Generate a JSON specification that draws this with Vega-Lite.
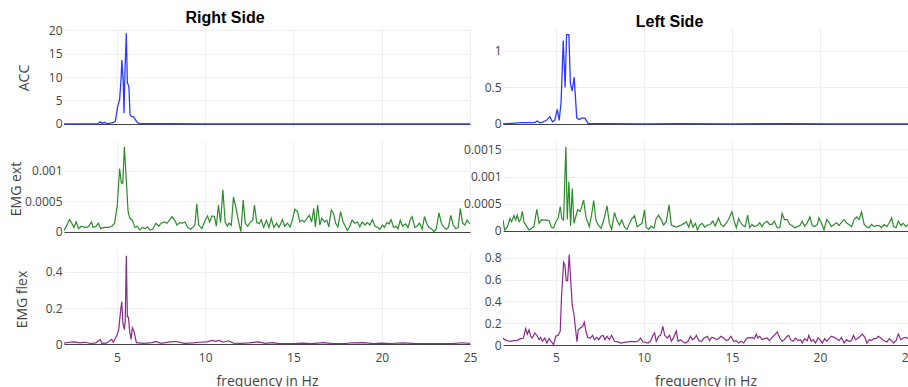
{
  "$schema": "https://vega.github.io/schema/vega-lite/v6.json",
  "padding": {"left": 8, "top": 10, "right": 0, "bottom": 0},
  "background": "white",
  "config": {
    "view": {"stroke": null},
    "axis": {
      "labelFont": "Open Sans", "labelFontSize": 12, "labelColor": "#444",
      "ticks": false, "tickSize": 0, "domain": false, "labelFlush": false,
      "gridColor": "#eeeeee", "gridWidth": 1,
      "titleFont": "Open Sans", "titleFontSize": 14, "titleColor": "#444", "titleFontWeight": "normal"
    },
    "title": {"font": "Liberation Sans", "fontSize": 16, "fontWeight": "bold", "color": "#000"}
  },
  "datasets": {
    "accR": [
      {"f": 2.0, "v": 0}, {"f": 3.0, "v": 0.02}, {"f": 3.9, "v": 0.02}, {"f": 4.05, "v": 0.5}, {"f": 4.15, "v": 0.07},
      {"f": 4.28, "v": 0.35}, {"f": 4.43, "v": 0.07}, {"f": 4.62, "v": 0.2}, {"f": 4.81, "v": 0.35}, {"f": 4.91, "v": 0.6},
      {"f": 5.04, "v": 3.7}, {"f": 5.15, "v": 5.2}, {"f": 5.23, "v": 9.4}, {"f": 5.28, "v": 13.6}, {"f": 5.36, "v": 8.7},
      {"f": 5.4, "v": 2.3}, {"f": 5.46, "v": 12}, {"f": 5.53, "v": 19.3}, {"f": 5.59, "v": 8.7}, {"f": 5.65, "v": 8.3},
      {"f": 5.68, "v": 7.6}, {"f": 5.74, "v": 2.0}, {"f": 5.82, "v": 1.6}, {"f": 5.95, "v": 1.5}, {"f": 6.02, "v": 1.1},
      {"f": 6.14, "v": 0.35}, {"f": 6.29, "v": 0.07}, {"f": 8, "v": 0.05}, {"f": 10, "v": 0.03}, {"f": 13, "v": 0.04},
      {"f": 16, "v": 0.03}, {"f": 19, "v": 0.03}, {"f": 22, "v": 0.04}, {"f": 25, "v": 0.03}
    ],
    "accL": [
      {"f": 2.0, "v": 0}, {"f": 3.05, "v": 0.02}, {"f": 3.52, "v": 0.02}, {"f": 3.81, "v": 0.02}, {"f": 3.94, "v": 0.04},
      {"f": 4.09, "v": 0.015}, {"f": 4.28, "v": 0.03}, {"f": 4.47, "v": 0.05}, {"f": 4.66, "v": 0.1}, {"f": 4.81, "v": 0.03},
      {"f": 4.94, "v": 0.05}, {"f": 5.08, "v": 0.2}, {"f": 5.19, "v": 0.05}, {"f": 5.3, "v": 0.3}, {"f": 5.42, "v": 1.14},
      {"f": 5.53, "v": 0.5}, {"f": 5.61, "v": 1.22}, {"f": 5.74, "v": 1.22}, {"f": 5.83, "v": 0.55}, {"f": 5.93, "v": 0.45},
      {"f": 6.04, "v": 0.64}, {"f": 6.19, "v": 0.08}, {"f": 6.33, "v": 0.06}, {"f": 6.46, "v": 0.08}, {"f": 6.65, "v": 0.08},
      {"f": 6.84, "v": 0.005}, {"f": 8, "v": 0.004}, {"f": 10, "v": 0.003}, {"f": 12, "v": 0.004}, {"f": 15, "v": 0.003},
      {"f": 18, "v": 0.004}, {"f": 21, "v": 0.003}, {"f": 25, "v": 0.003}
    ],
    "extR": [
      {"f": 2.0, "v": 0.00002}, {"f": 2.12, "v": 0.00008}, {"f": 2.31, "v": 0.0002}, {"f": 2.44, "v": 0.00014}, {"f": 2.56, "v": 0.00007},
      {"f": 2.69, "v": 0.00016}, {"f": 2.83, "v": 0.00005}, {"f": 2.98, "v": 0.00009}, {"f": 3.17, "v": 0.00007}, {"f": 3.37, "v": 0.00008},
      {"f": 3.56, "v": 0.00016}, {"f": 3.65, "v": 0.00007}, {"f": 3.81, "v": 0.00009}, {"f": 3.94, "v": 0.00014}, {"f": 4.08, "v": 0.00005},
      {"f": 4.27, "v": 0.00007}, {"f": 4.52, "v": 0.00007}, {"f": 4.71, "v": 0.00009}, {"f": 4.87, "v": 0.00014}, {"f": 5.02, "v": 0.00044},
      {"f": 5.15, "v": 0.00104}, {"f": 5.25, "v": 0.0008}, {"f": 5.33, "v": 0.0008}, {"f": 5.42, "v": 0.0014}, {"f": 5.54, "v": 0.0008},
      {"f": 5.63, "v": 0.00033}, {"f": 5.73, "v": 0.00022}, {"f": 5.87, "v": 0.00019}, {"f": 6.02, "v": 0.00007}, {"f": 6.15, "v": 0.00009},
      {"f": 6.29, "v": 0.00003}, {"f": 6.44, "v": 0.00007}, {"f": 6.6, "v": 0.00005}, {"f": 6.73, "v": 0.00008}, {"f": 6.87, "v": 0.00003},
      {"f": 7.02, "v": 0.00004}, {"f": 7.21, "v": 0.00014}, {"f": 7.37, "v": 0.00009}, {"f": 7.5, "v": 0.00014}, {"f": 7.69, "v": 0.00016},
      {"f": 7.83, "v": 0.00014}, {"f": 7.98, "v": 0.00019}, {"f": 8.12, "v": 0.00025}, {"f": 8.27, "v": 0.00019}, {"f": 8.4, "v": 0.00011},
      {"f": 8.56, "v": 0.00015}, {"f": 8.71, "v": 0.00014}, {"f": 8.85, "v": 0.00016}, {"f": 9.0, "v": 0.00007}, {"f": 9.17, "v": 0.00004},
      {"f": 9.33, "v": 0.00008}, {"f": 9.42, "v": 0.00011}, {"f": 9.52, "v": 0.00046}, {"f": 9.63, "v": 0.00011}, {"f": 9.81, "v": 0.00005},
      {"f": 10.0, "v": 0.00019}, {"f": 10.13, "v": 0.00026}, {"f": 10.25, "v": 0.00016}, {"f": 10.38, "v": 0.00026}, {"f": 10.52, "v": 0.00025},
      {"f": 10.63, "v": 0.00009}, {"f": 10.75, "v": 0.00044}, {"f": 10.87, "v": 0.00015}, {"f": 11.0, "v": 0.00069}, {"f": 11.13, "v": 0.00016},
      {"f": 11.25, "v": 0.00009}, {"f": 11.35, "v": 0.00014}, {"f": 11.48, "v": 0.00011}, {"f": 11.6, "v": 0.00057}, {"f": 11.73, "v": 0.00041},
      {"f": 11.87, "v": 0.00019}, {"f": 12.02, "v": 0.0}, {"f": 12.15, "v": 0.00052}, {"f": 12.27, "v": 0.00014}, {"f": 12.4, "v": 0.00009},
      {"f": 12.54, "v": 0.00015}, {"f": 12.69, "v": 0.00019}, {"f": 12.79, "v": 0.00044}, {"f": 12.92, "v": 0.00015}, {"f": 13.06, "v": 0.00013},
      {"f": 13.17, "v": 0.0002}, {"f": 13.31, "v": 0.00007}, {"f": 13.47, "v": 0.00019}, {"f": 13.61, "v": 0.00007}, {"f": 13.74, "v": 0.00022},
      {"f": 13.89, "v": 0.00007}, {"f": 14.05, "v": 0.00014}, {"f": 14.18, "v": 0.00007}, {"f": 14.37, "v": 0.0002}, {"f": 14.5, "v": 0.00009},
      {"f": 14.66, "v": 0.00014}, {"f": 14.81, "v": 0.00008}, {"f": 14.94, "v": 0.0002}, {"f": 15.08, "v": 0.00037}, {"f": 15.23, "v": 0.00033},
      {"f": 15.36, "v": 0.00016}, {"f": 15.48, "v": 0.00019}, {"f": 15.61, "v": 0.00016}, {"f": 15.76, "v": 0.00022}, {"f": 15.9, "v": 0.00027},
      {"f": 16.03, "v": 0.00016}, {"f": 16.15, "v": 0.00038}, {"f": 16.24, "v": 0.00008}, {"f": 16.37, "v": 0.00044}, {"f": 16.49, "v": 0.00011},
      {"f": 16.6, "v": 0.00022}, {"f": 16.76, "v": 0.00016}, {"f": 16.89, "v": 0.00019}, {"f": 17.0, "v": 0.00008}, {"f": 17.14, "v": 0.00036},
      {"f": 17.27, "v": 0.0003}, {"f": 17.39, "v": 0.00014}, {"f": 17.52, "v": 0.00008}, {"f": 17.67, "v": 0.00033}, {"f": 17.81, "v": 0.00016},
      {"f": 17.9, "v": 0.00011}, {"f": 18.05, "v": 0.00002}, {"f": 18.19, "v": 0.00009}, {"f": 18.32, "v": 0.00019}, {"f": 18.47, "v": 0.00014},
      {"f": 18.63, "v": 0.00016}, {"f": 18.76, "v": 0.00008}, {"f": 18.89, "v": 0.00016}, {"f": 19.05, "v": 0.00011}, {"f": 19.18, "v": 0.00015},
      {"f": 19.33, "v": 0.00011}, {"f": 19.47, "v": 0.0002}, {"f": 19.62, "v": 0.00009}, {"f": 19.77, "v": 0.00007}, {"f": 19.9, "v": 0.00004},
      {"f": 20.04, "v": 0.00011}, {"f": 20.15, "v": 0.00007}, {"f": 20.29, "v": 0.00015}, {"f": 20.42, "v": 0.00013}, {"f": 20.53, "v": 0.0002},
      {"f": 20.67, "v": 0.00007}, {"f": 20.8, "v": 0.00009}, {"f": 20.92, "v": 0.00005}, {"f": 21.05, "v": 0.00019}, {"f": 21.18, "v": 0.00009},
      {"f": 21.34, "v": 0.00013}, {"f": 21.49, "v": 0.00007}, {"f": 21.62, "v": 0.0002}, {"f": 21.72, "v": 0.00025}, {"f": 21.87, "v": 0.00007},
      {"f": 22.0, "v": 0.00009}, {"f": 22.14, "v": 0.00014}, {"f": 22.29, "v": 0.00004}, {"f": 22.42, "v": 0.00025}, {"f": 22.54, "v": 0.00014},
      {"f": 22.67, "v": 0.00007}, {"f": 22.82, "v": 0.00005}, {"f": 22.96, "v": 0.0}, {"f": 23.09, "v": 0.00005}, {"f": 23.24, "v": 0.00031},
      {"f": 23.38, "v": 0.00014}, {"f": 23.53, "v": 0.00007}, {"f": 23.66, "v": 0.00004}, {"f": 23.78, "v": 0.00007}, {"f": 23.91, "v": 0.00027},
      {"f": 24.05, "v": 0.00011}, {"f": 24.2, "v": 0.00005}, {"f": 24.33, "v": 0.00007}, {"f": 24.45, "v": 0.00038}, {"f": 24.58, "v": 0.00014},
      {"f": 24.71, "v": 0.00011}, {"f": 24.83, "v": 0.00019}, {"f": 24.96, "v": 0.00014}, {"f": 25.0, "v": 0.00013}
    ],
    "extL": [
      {"f": 2.0, "v": 0.0002}, {"f": 2.09, "v": 0.00002}, {"f": 2.24, "v": 0.00007}, {"f": 2.4, "v": 0.00023}, {"f": 2.49, "v": 0.00017},
      {"f": 2.62, "v": 0.00028}, {"f": 2.72, "v": 0.0002}, {"f": 2.81, "v": 0.00029}, {"f": 2.91, "v": 0.00017}, {"f": 3.0, "v": 0.00021},
      {"f": 3.1, "v": 0.00036}, {"f": 3.19, "v": 0.00017}, {"f": 3.35, "v": 0.00008}, {"f": 3.48, "v": 0.00002}, {"f": 3.63, "v": 0.00005},
      {"f": 3.76, "v": 0.00009}, {"f": 3.92, "v": 0.0004}, {"f": 4.05, "v": 0.00014}, {"f": 4.18, "v": 0.00021}, {"f": 4.33, "v": 0.0002},
      {"f": 4.49, "v": 0.0002}, {"f": 4.62, "v": 0.00019}, {"f": 4.75, "v": 0.00007}, {"f": 4.87, "v": 0.00005}, {"f": 5.0, "v": 0.00017},
      {"f": 5.13, "v": 0.00023}, {"f": 5.25, "v": 0.00045}, {"f": 5.34, "v": 0.00023}, {"f": 5.44, "v": 0.0002}, {"f": 5.57, "v": 0.00155},
      {"f": 5.65, "v": 0.00021}, {"f": 5.74, "v": 0.00091}, {"f": 5.84, "v": 0.00009}, {"f": 5.93, "v": 0.00078}, {"f": 6.03, "v": 0.00014},
      {"f": 6.24, "v": 0.00039}, {"f": 6.39, "v": 0.00036}, {"f": 6.58, "v": 0.00057}, {"f": 6.71, "v": 0.00026}, {"f": 6.9, "v": 0.00008},
      {"f": 7.03, "v": 0.00029}, {"f": 7.15, "v": 0.00056}, {"f": 7.28, "v": 0.0002}, {"f": 7.41, "v": 0.00011}, {"f": 7.57, "v": 0.00005},
      {"f": 7.72, "v": 0.0002}, {"f": 7.91, "v": 0.00046}, {"f": 8.04, "v": 0.00014}, {"f": 8.17, "v": 0.00003}, {"f": 8.33, "v": 0.00034},
      {"f": 8.46, "v": 0.0002}, {"f": 8.61, "v": 0.00011}, {"f": 8.75, "v": 0.0002}, {"f": 8.9, "v": 0.00007}, {"f": 9.05, "v": 0.00003},
      {"f": 9.18, "v": 0.00014}, {"f": 9.33, "v": 0.00023}, {"f": 9.47, "v": 0.00028}, {"f": 9.62, "v": 0.00008}, {"f": 9.75, "v": 0.00011},
      {"f": 9.89, "v": 0.00014}, {"f": 10.04, "v": 0.00039}, {"f": 10.13, "v": 0.00007}, {"f": 10.27, "v": 0.00003}, {"f": 10.42, "v": 0.00009},
      {"f": 10.57, "v": 0.00005}, {"f": 10.7, "v": 0.00023}, {"f": 10.84, "v": 0.00029}, {"f": 10.99, "v": 0.0002}, {"f": 11.12, "v": 0.00011},
      {"f": 11.27, "v": 0.00017}, {"f": 11.43, "v": 0.00048}, {"f": 11.56, "v": 0.00011}, {"f": 11.71, "v": 0.00009}, {"f": 11.84, "v": 0.00007},
      {"f": 11.98, "v": 0.00009}, {"f": 12.13, "v": 0.00011}, {"f": 12.28, "v": 0.00014}, {"f": 12.41, "v": 0.00017}, {"f": 12.55, "v": 0.00007},
      {"f": 12.66, "v": 0.0002}, {"f": 12.79, "v": 0.00007}, {"f": 12.93, "v": 0.00014}, {"f": 13.04, "v": 0.00002}, {"f": 13.18, "v": 0.00011},
      {"f": 13.31, "v": 0.00014}, {"f": 13.46, "v": 0.00007}, {"f": 13.61, "v": 0.00011}, {"f": 13.76, "v": 0.00012}, {"f": 13.92, "v": 0.00018},
      {"f": 14.05, "v": 0.00009}, {"f": 14.24, "v": 0.00024}, {"f": 14.37, "v": 0.00012}, {"f": 14.52, "v": 0.00008}, {"f": 14.68, "v": 0.00015},
      {"f": 14.81, "v": 0.00021}, {"f": 15.0, "v": 0.00035}, {"f": 15.13, "v": 0.00018}, {"f": 15.25, "v": 0.00006}, {"f": 15.38, "v": 0.00023},
      {"f": 15.48, "v": 0.00016}, {"f": 15.63, "v": 0.0001}, {"f": 15.76, "v": 0.00008}, {"f": 15.89, "v": 0.00029}, {"f": 16.01, "v": 0.00006},
      {"f": 16.14, "v": 0.00012}, {"f": 16.27, "v": 0.00008}, {"f": 16.43, "v": 0.0001}, {"f": 16.58, "v": 0.00015}, {"f": 16.71, "v": 0.00008},
      {"f": 16.84, "v": 0.00015}, {"f": 17.0, "v": 0.00018}, {"f": 17.13, "v": 0.00012}, {"f": 17.28, "v": 0.00012}, {"f": 17.41, "v": 0.00018},
      {"f": 17.57, "v": 0.00006}, {"f": 17.72, "v": 0.00006}, {"f": 17.85, "v": 0.00032}, {"f": 17.98, "v": 0.00021}, {"f": 18.14, "v": 0.00021},
      {"f": 18.29, "v": 0.00012}, {"f": 18.42, "v": 0.0001}, {"f": 18.56, "v": 0.00006}, {"f": 18.71, "v": 0.00008}, {"f": 18.86, "v": 0.0001},
      {"f": 18.99, "v": 0.00018}, {"f": 19.13, "v": 0.00009}, {"f": 19.28, "v": 0.00015}, {"f": 19.43, "v": 0.00026}, {"f": 19.56, "v": 0.0001},
      {"f": 19.7, "v": 0.00008}, {"f": 19.85, "v": 0.00012}, {"f": 19.94, "v": 0.00024}, {"f": 20.08, "v": 0.00015}, {"f": 20.23, "v": 0.00002},
      {"f": 20.38, "v": 0.00021}, {"f": 20.51, "v": 0.00016}, {"f": 20.65, "v": 0.00008}, {"f": 20.8, "v": 0.00012}, {"f": 20.95, "v": 0.00015},
      {"f": 21.08, "v": 0.0001}, {"f": 21.22, "v": 0.00016}, {"f": 21.37, "v": 0.00021}, {"f": 21.5, "v": 0.00015}, {"f": 21.65, "v": 0.00012},
      {"f": 21.79, "v": 0.00008}, {"f": 21.94, "v": 0.00021}, {"f": 22.09, "v": 0.00026}, {"f": 22.22, "v": 0.00021}, {"f": 22.36, "v": 0.00035},
      {"f": 22.51, "v": 0.00012}, {"f": 22.64, "v": 0.00008}, {"f": 22.79, "v": 0.00006}, {"f": 22.93, "v": 0.00012}, {"f": 23.08, "v": 0.00008},
      {"f": 23.21, "v": 0.0001}, {"f": 23.37, "v": 0.0001}, {"f": 23.5, "v": 0.00006}, {"f": 23.65, "v": 0.00012}, {"f": 23.8, "v": 0.00008},
      {"f": 23.94, "v": 0.00015}, {"f": 24.07, "v": 0.00024}, {"f": 24.18, "v": 0.00008}, {"f": 24.32, "v": 0.00006}, {"f": 24.45, "v": 0.00018},
      {"f": 24.6, "v": 0.0001}, {"f": 24.73, "v": 0.00014}, {"f": 24.89, "v": 0.00008}, {"f": 25.0, "v": 0.00012}
    ],
    "flexR": [
      {"f": 2.0, "v": 0.005}, {"f": 2.3, "v": 0.01}, {"f": 2.6, "v": 0.012}, {"f": 2.9, "v": 0.006}, {"f": 3.2, "v": 0.01},
      {"f": 3.5, "v": 0.003}, {"f": 3.8, "v": 0.006}, {"f": 4.05, "v": 0.025}, {"f": 4.15, "v": 0.004}, {"f": 4.4, "v": 0.005},
      {"f": 4.7, "v": 0.026}, {"f": 4.8, "v": 0.01}, {"f": 5.0, "v": 0.05}, {"f": 5.1, "v": 0.08}, {"f": 5.19, "v": 0.17},
      {"f": 5.27, "v": 0.235}, {"f": 5.34, "v": 0.115}, {"f": 5.42, "v": 0.08}, {"f": 5.47, "v": 0.13}, {"f": 5.53, "v": 0.49},
      {"f": 5.59, "v": 0.15}, {"f": 5.65, "v": 0.15}, {"f": 5.72, "v": 0.07}, {"f": 5.8, "v": 0.026}, {"f": 5.87, "v": 0.09},
      {"f": 5.95, "v": 0.074}, {"f": 6.0, "v": 0.055}, {"f": 6.1, "v": 0.008}, {"f": 6.5, "v": 0.004}, {"f": 7.0, "v": 0.008},
      {"f": 7.2, "v": 0.015}, {"f": 7.5, "v": 0.004}, {"f": 8.0, "v": 0.012}, {"f": 8.4, "v": 0.014}, {"f": 8.8, "v": 0.004},
      {"f": 9.3, "v": 0.006}, {"f": 9.7, "v": 0.01}, {"f": 10.1, "v": 0.012}, {"f": 10.4, "v": 0.02}, {"f": 10.6, "v": 0.015},
      {"f": 10.8, "v": 0.02}, {"f": 11.0, "v": 0.01}, {"f": 11.3, "v": 0.018}, {"f": 11.6, "v": 0.005}, {"f": 12.0, "v": 0.004},
      {"f": 12.5, "v": 0.006}, {"f": 13.0, "v": 0.012}, {"f": 13.4, "v": 0.004}, {"f": 13.8, "v": 0.008}, {"f": 14.2, "v": 0.002},
      {"f": 15.0, "v": 0.003}, {"f": 15.5, "v": 0.005}, {"f": 16.0, "v": 0.002}, {"f": 16.7, "v": 0.008}, {"f": 17.2, "v": 0.002},
      {"f": 18.0, "v": 0.004}, {"f": 18.3, "v": 0.007}, {"f": 19.0, "v": 0.008}, {"f": 19.5, "v": 0.002}, {"f": 20.0, "v": 0.005},
      {"f": 20.5, "v": 0.003}, {"f": 21.2, "v": 0.006}, {"f": 22.0, "v": 0.002}, {"f": 23.0, "v": 0.003}, {"f": 24.0, "v": 0.002},
      {"f": 24.5, "v": 0.007}, {"f": 25.0, "v": 0.004}
    ],
    "flexL": [
      {"f": 2.0, "v": 0.064}, {"f": 2.09, "v": 0.049}, {"f": 2.24, "v": 0.04}, {"f": 2.43, "v": 0.034}, {"f": 2.62, "v": 0.04},
      {"f": 2.81, "v": 0.043}, {"f": 3.0, "v": 0.058}, {"f": 3.16, "v": 0.064}, {"f": 3.29, "v": 0.15}, {"f": 3.38, "v": 0.1},
      {"f": 3.48, "v": 0.14}, {"f": 3.57, "v": 0.08}, {"f": 3.67, "v": 0.064}, {"f": 3.8, "v": 0.11}, {"f": 3.92, "v": 0.089},
      {"f": 4.05, "v": 0.049}, {"f": 4.14, "v": 0.07}, {"f": 4.24, "v": 0.034}, {"f": 4.37, "v": 0.064}, {"f": 4.49, "v": 0.018},
      {"f": 4.62, "v": 0.058}, {"f": 4.75, "v": 0.028}, {"f": 4.87, "v": 0.003}, {"f": 5.0, "v": 0.08}, {"f": 5.13, "v": 0.089},
      {"f": 5.25, "v": 0.126}, {"f": 5.32, "v": 0.43}, {"f": 5.44, "v": 0.76}, {"f": 5.51, "v": 0.74}, {"f": 5.59, "v": 0.59},
      {"f": 5.67, "v": 0.59}, {"f": 5.76, "v": 0.83}, {"f": 5.86, "v": 0.555}, {"f": 5.93, "v": 0.37}, {"f": 6.03, "v": 0.28},
      {"f": 6.2, "v": 0.03}, {"f": 6.27, "v": 0.14}, {"f": 6.39, "v": 0.156}, {"f": 6.52, "v": 0.17}, {"f": 6.62, "v": 0.21},
      {"f": 6.71, "v": 0.126}, {"f": 6.81, "v": 0.07}, {"f": 6.96, "v": 0.064}, {"f": 7.09, "v": 0.089}, {"f": 7.19, "v": 0.049},
      {"f": 7.32, "v": 0.07}, {"f": 7.43, "v": 0.049}, {"f": 7.57, "v": 0.08}, {"f": 7.68, "v": 0.089}, {"f": 7.79, "v": 0.049},
      {"f": 7.91, "v": 0.08}, {"f": 8.04, "v": 0.049}, {"f": 8.17, "v": 0.089}, {"f": 8.33, "v": 0.034}, {"f": 8.52, "v": 0.028},
      {"f": 8.71, "v": 0.018}, {"f": 8.9, "v": 0.025}, {"f": 9.09, "v": 0.028}, {"f": 9.28, "v": 0.034}, {"f": 9.47, "v": 0.028},
      {"f": 9.66, "v": 0.034}, {"f": 9.81, "v": 0.064}, {"f": 9.94, "v": 0.028}, {"f": 10.08, "v": 0.025}, {"f": 10.23, "v": 0.018},
      {"f": 10.38, "v": 0.034}, {"f": 10.51, "v": 0.089}, {"f": 10.61, "v": 0.11}, {"f": 10.7, "v": 0.034}, {"f": 10.84, "v": 0.08},
      {"f": 10.95, "v": 0.089}, {"f": 11.08, "v": 0.17}, {"f": 11.18, "v": 0.089}, {"f": 11.33, "v": 0.064}, {"f": 11.46, "v": 0.089},
      {"f": 11.56, "v": 0.034}, {"f": 11.69, "v": 0.07}, {"f": 11.84, "v": 0.13}, {"f": 11.94, "v": 0.034}, {"f": 12.09, "v": 0.049},
      {"f": 12.22, "v": 0.028}, {"f": 12.36, "v": 0.018}, {"f": 12.51, "v": 0.034}, {"f": 12.64, "v": 0.08}, {"f": 12.76, "v": 0.049},
      {"f": 12.89, "v": 0.064}, {"f": 12.98, "v": 0.089}, {"f": 13.12, "v": 0.04}, {"f": 13.27, "v": 0.034}, {"f": 13.42, "v": 0.064},
      {"f": 13.61, "v": 0.08}, {"f": 13.73, "v": 0.04}, {"f": 13.86, "v": 0.07}, {"f": 13.99, "v": 0.064}, {"f": 14.11, "v": 0.049},
      {"f": 14.24, "v": 0.058}, {"f": 14.37, "v": 0.08}, {"f": 14.52, "v": 0.064}, {"f": 14.68, "v": 0.04}, {"f": 14.81, "v": 0.049},
      {"f": 14.94, "v": 0.08}, {"f": 15.1, "v": 0.034}, {"f": 15.25, "v": 0.04}, {"f": 15.38, "v": 0.018}, {"f": 15.51, "v": 0.034},
      {"f": 15.67, "v": 0.018}, {"f": 15.82, "v": 0.058}, {"f": 15.95, "v": 0.07}, {"f": 16.05, "v": 0.064}, {"f": 16.14, "v": 0.07},
      {"f": 16.27, "v": 0.058}, {"f": 16.39, "v": 0.1}, {"f": 16.46, "v": 0.064}, {"f": 16.58, "v": 0.08}, {"f": 16.71, "v": 0.049},
      {"f": 16.84, "v": 0.058}, {"f": 17.0, "v": 0.064}, {"f": 17.13, "v": 0.04}, {"f": 17.28, "v": 0.07}, {"f": 17.41, "v": 0.089},
      {"f": 17.57, "v": 0.12}, {"f": 17.72, "v": 0.064}, {"f": 17.85, "v": 0.034}, {"f": 17.98, "v": 0.049}, {"f": 18.14, "v": 0.08},
      {"f": 18.23, "v": 0.089}, {"f": 18.33, "v": 0.049}, {"f": 18.48, "v": 0.034}, {"f": 18.61, "v": 0.064}, {"f": 18.75, "v": 0.04},
      {"f": 18.9, "v": 0.049}, {"f": 18.99, "v": 0.018}, {"f": 19.13, "v": 0.058}, {"f": 19.28, "v": 0.04}, {"f": 19.37, "v": 0.089},
      {"f": 19.51, "v": 0.034}, {"f": 19.62, "v": 0.049}, {"f": 19.75, "v": 0.018}, {"f": 19.89, "v": 0.064}, {"f": 20.0, "v": 0.049},
      {"f": 20.13, "v": 0.018}, {"f": 20.27, "v": 0.058}, {"f": 20.38, "v": 0.034}, {"f": 20.51, "v": 0.058}, {"f": 20.65, "v": 0.08},
      {"f": 20.8, "v": 0.07}, {"f": 20.95, "v": 0.058}, {"f": 21.08, "v": 0.04}, {"f": 21.22, "v": 0.07}, {"f": 21.37, "v": 0.018},
      {"f": 21.5, "v": 0.049}, {"f": 21.65, "v": 0.034}, {"f": 21.79, "v": 0.04}, {"f": 21.9, "v": 0.089}, {"f": 22.03, "v": 0.049},
      {"f": 22.17, "v": 0.064}, {"f": 22.28, "v": 0.08}, {"f": 22.41, "v": 0.1}, {"f": 22.55, "v": 0.07}, {"f": 22.66, "v": 0.018},
      {"f": 22.79, "v": 0.049}, {"f": 22.93, "v": 0.04}, {"f": 23.04, "v": 0.058}, {"f": 23.18, "v": 0.058}, {"f": 23.31, "v": 0.08},
      {"f": 23.42, "v": 0.07}, {"f": 23.56, "v": 0.049}, {"f": 23.69, "v": 0.034}, {"f": 23.8, "v": 0.028}, {"f": 23.94, "v": 0.058},
      {"f": 24.07, "v": 0.04}, {"f": 24.18, "v": 0.018}, {"f": 24.32, "v": 0.04}, {"f": 24.45, "v": 0.1}, {"f": 24.6, "v": 0.049},
      {"f": 24.73, "v": 0.064}, {"f": 24.89, "v": 0.07}, {"f": 25.0, "v": 0.058}
    ]
  },
  "columns": 2,
  "align": "each",
  "spacing": {"row": 14, "column": 33},
  "bounds": "flush",
  "concat": [
    {
      "width": 406, "height": 99,
      "title": {"text": "Right Side", "anchor": "middle", "frame": "group", "dx": -42, "offset": -15, "baseline": "alphabetic"},
      "data": {"name": "accR"},
      "mark": {"type": "line", "color": "#2b3cff", "strokeWidth": 1.3, "clip": true},
      "encoding": {
        "x": {"field": "f", "type": "quantitative", "scale": {"domain": [2, 25], "nice": false, "zero": false},
              "axis": {"values": [5, 10, 15, 20, 25], "labels": false, "title": null}},
        "y": {"field": "v", "type": "quantitative", "scale": {"domain": [-0.64, 20.43], "nice": false, "zero": false},
              "axis": {"values": [0, 5, 10, 15, 20], "format": "~g", "labelPadding": 2, "title": "ACC", "titleX": -36, "titleBaseline": "alphabetic",
                       "gridColor": {"condition": {"test": "datum.value === 0", "value": "#444"}, "value": "#eeeeee"}}}
      }
    },
    {
      "width": 405, "height": 99,
      "title": {"text": "Left Side", "anchor": "middle", "frame": "group", "dx": -36, "offset": -15, "baseline": "alphabetic"},
      "data": {"name": "accL"},
      "mark": {"type": "line", "color": "#2b3cff", "strokeWidth": 1.3, "clip": true},
      "encoding": {
        "x": {"field": "f", "type": "quantitative", "scale": {"domain": [2, 25], "nice": false, "zero": false},
              "axis": {"values": [5, 10, 15, 20, 25], "labels": false, "title": null}},
        "y": {"field": "v", "type": "quantitative", "scale": {"domain": [-0.041, 1.31], "nice": false, "zero": false},
              "axis": {"values": [0, 0.5, 1], "format": "~g", "labelPadding": 2, "title": null,
                       "gridColor": {"condition": {"test": "datum.value === 0", "value": "#444"}, "value": "#eeeeee"}}}
      }
    },
    {
      "width": 406, "height": 95,
      "data": {"name": "extR"},
      "mark": {"type": "line", "color": "#2a8c2a", "strokeWidth": 1.2, "clip": true},
      "encoding": {
        "x": {"field": "f", "type": "quantitative", "scale": {"domain": [2, 25], "nice": false, "zero": false},
              "axis": {"values": [5, 10, 15, 20, 25], "labels": false, "title": null}},
        "y": {"field": "v", "type": "quantitative", "scale": {"domain": [-0.0000708, 0.001494], "nice": false, "zero": false},
              "axis": {"values": [0, 0.0005, 0.001], "format": "~g", "labelPadding": 2, "title": "EMG ext", "titleX": -44, "titleBaseline": "alphabetic",
                       "gridColor": {"condition": {"test": "datum.value === 0", "value": "#444"}, "value": "#eeeeee"}}}
      }
    },
    {
      "width": 405, "height": 95,
      "data": {"name": "extL"},
      "mark": {"type": "line", "color": "#2a8c2a", "strokeWidth": 1.2, "clip": true},
      "encoding": {
        "x": {"field": "f", "type": "quantitative", "scale": {"domain": [2, 25], "nice": false, "zero": false},
              "axis": {"values": [5, 10, 15, 20, 25], "labels": false, "title": null}},
        "y": {"field": "v", "type": "quantitative", "scale": {"domain": [-0.000092, 0.001654], "nice": false, "zero": false},
              "axis": {"values": [0, 0.0005, 0.001, 0.0015], "format": "~g", "labelPadding": 2, "title": null,
                       "gridColor": {"condition": {"test": "datum.value === 0", "value": "#444"}, "value": "#eeeeee"}}}
      }
    },
    {
      "width": 406, "height": 98,
      "data": {"name": "flexR"},
      "mark": {"type": "line", "color": "#8c2a8c", "strokeWidth": 1.2, "clip": true},
      "encoding": {
        "x": {"field": "f", "type": "quantitative", "scale": {"domain": [2, 25], "nice": false, "zero": false},
              "axis": {"values": [5, 10, 15, 20, 25], "format": "d", "labelPadding": 4, "title": "frequency in Hz", "titlePadding": 11}},
        "y": {"field": "v", "type": "quantitative", "scale": {"domain": [-0.022, 0.522], "nice": false, "zero": false},
              "axis": {"values": [0, 0.2, 0.4], "format": "~g", "labelPadding": 2, "title": "EMG flex", "titleX": -38, "titleBaseline": "alphabetic",
                       "gridColor": {"condition": {"test": "datum.value === 0", "value": "#444"}, "value": "#eeeeee"}}}
      }
    },
    {
      "width": 405, "height": 98,
      "data": {"name": "flexL"},
      "mark": {"type": "line", "color": "#8c2a8c", "strokeWidth": 1.2, "clip": true},
      "encoding": {
        "x": {"field": "f", "type": "quantitative", "scale": {"domain": [2, 25], "nice": false, "zero": false},
              "axis": {"values": [5, 10, 15, 20, 25], "format": "d", "labelPadding": 4, "title": "frequency in Hz", "titlePadding": 11}},
        "y": {"field": "v", "type": "quantitative", "scale": {"domain": [-0.0275, 0.872], "nice": false, "zero": false},
              "axis": {"values": [0, 0.2, 0.4, 0.6, 0.8], "format": "~g", "labelPadding": 2, "title": null,
                       "gridColor": {"condition": {"test": "datum.value === 0", "value": "#444"}, "value": "#eeeeee"}}}
      }
    }
  ]
}
